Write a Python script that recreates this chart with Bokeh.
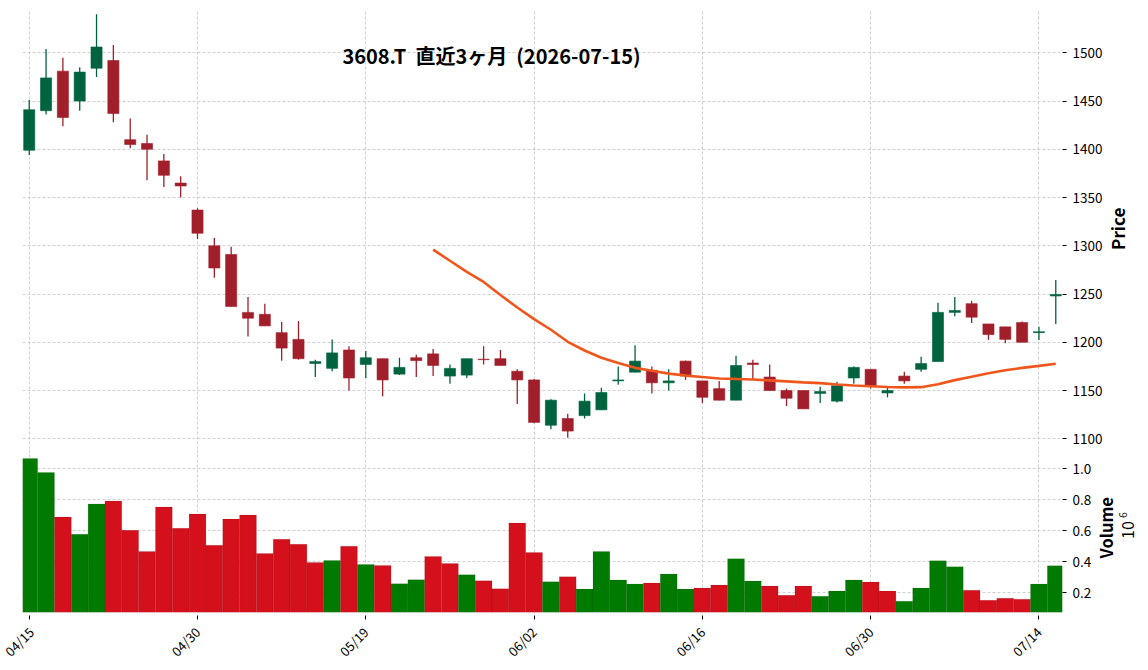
from bokeh.plotting import figure
from bokeh.layouts import column, row
from bokeh.models import FixedTicker, Label, Range1d, NumeralTickFormatter, ColumnDataSource
from bokeh.embed import file_html
from bokeh.resources import INLINE

# ---------------- data ----------------
dates = ["04/15", "04/16", "04/17", "04/20", "04/21", "04/22", "04/23", "04/24", "04/27", "04/28",
         "04/30", "05/01", "05/07", "05/08", "05/11", "05/12", "05/13", "05/14", "05/15", "05/18",
         "05/19", "05/20", "05/21", "05/22", "05/25", "05/26", "05/27", "05/28", "05/29", "06/01",
         "06/02", "06/03", "06/04", "06/05", "06/08", "06/09", "06/10", "06/11", "06/12", "06/15",
         "06/16", "06/17", "06/18", "06/19", "06/22", "06/23", "06/24", "06/25", "06/26", "06/29",
         "06/30", "07/01", "07/02", "07/03", "07/06", "07/07", "07/08", "07/09", "07/10", "07/13",
         "07/14", "07/15"]

opens = [1399, 1440, 1481, 1450, 1484, 1492, 1410, 1406, 1388, 1365,
         1337, 1300, 1291, 1231, 1229, 1210, 1203, 1178, 1173, 1192,
         1177, 1183, 1167, 1184, 1188, 1165, 1166, 1182.5, 1183, 1170,
         1161, 1114, 1121, 1124, 1130, 1160, 1169, 1171, 1158, 1180.5,
         1160, 1152, 1140, 1178.5, 1164, 1150, 1150, 1147, 1139, 1163,
         1172, 1147.5, 1165, 1172, 1180, 1231, 1240, 1219, 1216, 1220.5,
         1210, 1248]
highs = [1451, 1504, 1495, 1485, 1540, 1508, 1432, 1415, 1395, 1372,
         1339, 1308, 1299, 1247, 1240, 1221, 1222, 1182, 1203, 1196,
         1191, 1183, 1184, 1187, 1193, 1177, 1183, 1196, 1192, 1172,
         1162, 1141, 1126, 1147, 1153, 1175, 1197, 1175, 1172, 1181,
         1160, 1160, 1186, 1182, 1177, 1152, 1150, 1154, 1159, 1175,
         1172, 1154, 1169.5, 1185, 1241, 1247, 1243, 1219, 1216, 1221.5,
         1216, 1264.5]
lows = [1394, 1436, 1424, 1440, 1475, 1428, 1401, 1368, 1361, 1350,
        1307, 1267, 1237, 1206, 1217, 1181, 1182, 1164, 1170, 1150,
        1163, 1144, 1166, 1164, 1165, 1157, 1163, 1177, 1176, 1136,
        1116, 1110, 1101, 1121, 1130, 1156, 1169, 1147, 1150, 1161,
        1137, 1140, 1140, 1161, 1149.5, 1134, 1131, 1137, 1137.5, 1157,
        1152, 1143, 1157, 1169.5, 1180, 1227, 1220, 1202.5, 1199, 1200,
        1202.5, 1219]
closes = [1441, 1474, 1433, 1480, 1506, 1437, 1405, 1400, 1373, 1362,
          1313, 1277, 1237, 1225, 1217, 1194, 1183, 1180, 1189, 1163,
          1184, 1161, 1174, 1181, 1176, 1173, 1183, 1182, 1176, 1161,
          1117, 1140, 1108, 1139, 1148, 1161, 1180.5, 1158, 1160, 1165,
          1143, 1140, 1176, 1177, 1150, 1142, 1131, 1149, 1155, 1174,
          1155, 1150, 1160, 1178, 1231, 1233, 1226, 1208, 1203, 1200,
          1211, 1249.5]
# volume in millions of shares
volume_m = [1.067, 0.976, 0.689, 0.578, 0.774, 0.793, 0.604, 0.467, 0.754, 0.617,
            0.709, 0.507, 0.676, 0.702, 0.454, 0.546, 0.513, 0.396, 0.409, 0.500,
            0.383, 0.376, 0.259, 0.285, 0.435, 0.389, 0.317, 0.278, 0.226, 0.650,
            0.461, 0.272, 0.304, 0.224, 0.466, 0.283, 0.257, 0.263, 0.322, 0.224,
            0.231, 0.250, 0.420, 0.276, 0.244, 0.185, 0.244, 0.178, 0.211, 0.283,
            0.270, 0.211, 0.145, 0.231, 0.407, 0.368, 0.217, 0.152, 0.165, 0.159,
            0.257, 0.374]
# 25-day moving average of the close (starts at the 25th session)
ma25 = [1296, 1284.5, 1273, 1262.5, 1249, 1236, 1224, 1213, 1200.5, 1191.5,
        1184, 1178.5, 1173.5, 1170.5, 1167.5, 1165.5, 1164, 1162.5, 1162, 1161.5,
        1160.5, 1159.5, 1158.5, 1157.7, 1156.3, 1155.2, 1154.4, 1153.7, 1153.3, 1153.5,
        1156.5, 1160.8, 1164.3, 1168, 1171, 1173.5, 1175.6, 1177.8]
price_ticks = [1100, 1150, 1200, 1250, 1300, 1350, 1400, 1450, 1500]
volume_ticks = [0.2, 0.4, 0.6, 0.8, 1.0]
title_text = "3608.T \u00a0直近3ヶ月 \u00a0(2026-07-15)"

# ---------------- styling ----------------
FONT = "Noto Sans CJK JP"
UP_C, DOWN_C = "#00633f", "#a11f2a"
VUP_C, VDOWN_C = "#007a00", "#d3101c"
MA_C = "#f0561c"
GRID_C = "#c4c4c4"

n = len(dates)
xs = list(range(n))
date_ticks = xs[::10]

inc = [c >= o for o, c in zip(opens, closes)]
vol_inc = [True] + [closes[i] >= closes[i - 1] for i in range(1, n)]

src = ColumnDataSource(dict(
    x=xs, high=highs, low=lows,
    top=[max(o, c) for o, c in zip(opens, closes)],
    bottom=[min(o, c) for o, c in zip(opens, closes)],
    color=[UP_C if u else DOWN_C for u in inc],
    vol=volume_m,
    vcolor=[VUP_C if u else VDOWN_C for u in vol_inc],
))

x_range = Range1d(-0.4, n - 0.6)

H1 = 449          # height of the price row
H2 = 670 - H1     # height of the volume row
TOP = 11          # top border of the price frame
BOTTOM = 58       # bottom border below the volume frame
W1, W2 = 1106, 1094

p1 = figure(width=W1, height=H1, x_range=x_range, y_range=Range1d(1088.9, 1542.8),
            x_axis_location=None, y_axis_location="right",
            output_backend="svg", toolbar_location=None,
            min_border_left=22, min_border_right=W1 - 1062, min_border_top=TOP, min_border_bottom=0)

p2 = figure(width=W2, height=H2, x_range=x_range, y_range=Range1d(0.073, 1.125),
            y_axis_location="right",
            output_backend="svg", toolbar_location=None,
            min_border_left=22, min_border_right=W2 - 1062, min_border_top=0, min_border_bottom=BOTTOM)

for p in (p1, p2):
    p.outline_line_color = None
    p.background_fill_color = "white"
    p.border_fill_color = "white"
    p.xgrid.ticker = FixedTicker(ticks=date_ticks)
    for g in (p.xgrid, p.ygrid):
        g.grid_line_color = GRID_C
        g.grid_line_dash = "3 2"
        g.grid_line_width = 0.8
    for ax in p.yaxis:
        ax.axis_line_color = None
        ax.major_tick_out = 4
        ax.major_tick_in = 0
        ax.minor_tick_line_color = None
        ax.major_tick_line_color = "black"
        ax.major_label_standoff = 6
        ax.major_label_text_font = FONT
        ax.major_label_text_font_size = "13.5px"
        ax.major_label_text_color = "black"

p1.yaxis.ticker = FixedTicker(ticks=price_ticks)
p1.ygrid.ticker = FixedTicker(ticks=price_ticks)
p2.yaxis.ticker = FixedTicker(ticks=volume_ticks)
p2.ygrid.ticker = FixedTicker(ticks=volume_ticks)
p2.yaxis.formatter = NumeralTickFormatter(format="0.0")

xa = p2.xaxis[0]
xa.ticker = FixedTicker(ticks=date_ticks)
xa.major_label_overrides = {i: dates[i] for i in date_ticks}
xa.major_label_orientation = 0.785398
xa.axis_line_color = None
xa.major_tick_out = 7
xa.major_tick_in = -3
xa.minor_tick_line_color = None
xa.major_tick_line_color = "black"
xa.major_label_text_font = FONT
xa.major_label_text_font_size = "13px"
xa.major_label_text_color = "black"
xa.major_label_standoff = 10

# candles
p1.segment(x0="x", y0="high", x1="x", y1="low", source=src, line_color="color", line_width=1.3)
p1.vbar(x="x", top="top", bottom="bottom", width=0.66, source=src,
        fill_color="color", line_color="color", line_width=0.6)

# moving average
ma_x = xs[n - len(ma25):]
p1.line(ma_x, ma25, line_color=MA_C, line_width=2.6)

# volume
p2.vbar(x="x", top="vol", bottom=0, width=1.0, source=src,
        fill_color="vcolor", line_color="black", line_alpha=0.15, line_width=0.6)

# title
p1.add_layout(Label(x=27.47, y=1497.2, text=title_text, text_align="center", text_baseline="middle",
                    text_font=FONT, text_font_style="bold", text_font_size="20px",
                    text_color="black"))


def side_panel(x0, w, h, y_top, y_bottom):
    # narrow text-only panel; its ranges are in page pixels (y grows downward)
    s = figure(width=w, height=h, x_range=Range1d(x0, x0 + w), y_range=Range1d(y_bottom, y_top),
               x_axis_location=None, y_axis_location=None,
               output_backend="svg", toolbar_location=None,
               min_border_left=0, min_border_right=0, min_border_top=0, min_border_bottom=0)
    s.outline_line_color = None
    s.xgrid.visible = False
    s.ygrid.visible = False
    s.background_fill_color = "white"
    s.border_fill_color = "white"
    return s


# the row aligns the side panel's frame with the neighbouring chart frame
s1 = side_panel(W1, 1148 - W1, H1, TOP, H1)
s1.add_layout(Label(x=1116.9, y=228.3, text="Price", angle=1.5708, text_align="center",
                    text_baseline="middle", text_font=FONT, text_font_style="bold",
                    text_font_size="17px", text_color="black"))
s2 = side_panel(W2, 1148 - W2, H2, H1, 670 - BOTTOM)
s2.add_layout(Label(x=1105.2, y=527.3, text="Volume", angle=1.5708, text_align="center",
                    text_baseline="middle", text_font=FONT, text_font_style="bold",
                    text_font_size="16.5px", text_color="black"))
# exponent of the volume axis: "10" with a raised "6"
s2.add_layout(Label(x=1127.0, y=529.5, text="10", angle=1.5708, text_align="center",
                    text_baseline="middle", text_font=FONT, text_font_size="16px",
                    text_color="black"))
s2.add_layout(Label(x=1122.8, y=514.5, text="6", angle=1.5708, text_align="center",
                    text_baseline="middle", text_font=FONT, text_font_size="10.5px",
                    text_color="black"))

layout = column(row(p1, s1, spacing=0), row(p2, s2, spacing=0), spacing=0)
open("out.html", "w").write(file_html(layout, INLINE))
